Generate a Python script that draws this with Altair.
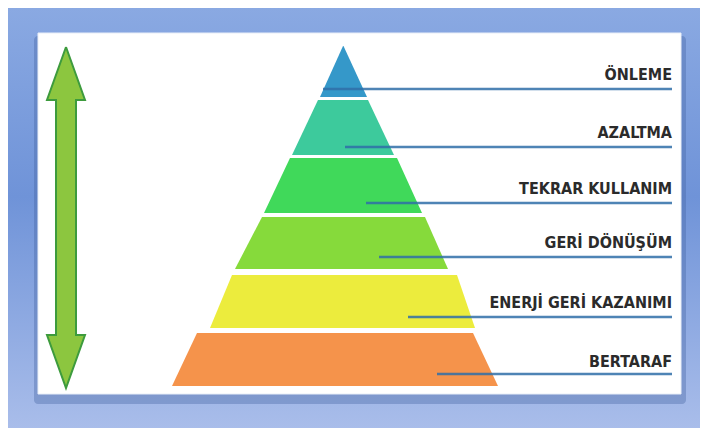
import altair as alt
import pandas as pd

# ---- data (diagram geometry in image units) ----
levels = ["ÖNLEME", "AZALTMA", "TEKRAR KULLANIM", "GERİ DÖNÜŞÜM",
          "ENERJİ GERİ KAZANIMI", "BERTARAF"]
colors = ["#3598c9", "#3dca9c", "#40d95a", "#86da3b", "#ecec3d", "#f5934b"]
y_top = [46, 100, 158, 217, 275, 333]
y_bot = [97, 155, 213, 269, 328, 386]
xl_top = [343, 318, 290, 262, 232, 197]
xr_top = [343.5, 368, 397, 425, 457, 473]
xl_bot = [320, 292, 264, 235, 210, 172]
xr_bot = [367, 394, 422, 448, 475, 498]
line_y = [89, 147, 203, 257, 317, 374]
line_x0 = [323, 345, 366, 379, 408, 437]
line_x1 = [672, 672, 672, 672, 672, 672]
label_y = [80, 138, 194, 248, 308, 367]

# double arrow outline (clockwise from top tip)
arrow_px = [66, 85, 76, 76, 85, 66, 47, 56, 56, 47, 66]
arrow_py = [47, 100, 100, 335, 335, 388, 335, 335, 100, 100, 47]

frame = {"x": [8], "x2": [700], "y": [8], "y2": [428]}
shadow = {"x": [34], "x2": [686], "y": [36], "y2": [404]}
panel = {"x": [38], "x2": [681], "y": [33], "y2": [394]}

# ---- tables ----
pyr_rows = []
for i, name in enumerate(levels):
    b = y_bot[i]
    for xx, yy in [(xl_bot[i], b), (xl_top[i], y_top[i]),
                   (xr_top[i], y_top[i]), (xr_bot[i], b)]:
        pyr_rows.append({"level": name, "color": colors[i],
                         "x": xx, "y": yy, "yb": b})
pyr = pd.DataFrame(pyr_rows)

lines = pd.DataFrame({"level": levels, "y": line_y, "x0": line_x0, "x1": line_x1,
                      "ly": label_y})
outline = pd.DataFrame({"o": list(range(len(arrow_px))),
                        "x": arrow_px, "y": arrow_py})

# arrow fill pieces, built from the outline points
tip_t, base_t = arrow_py[0], arrow_py[1]
base_b, tip_b = arrow_py[3], arrow_py[5]
hl, hc, hr = arrow_px[6], arrow_px[0], arrow_px[1]
sl, sr = arrow_px[7], arrow_px[2]
heads = pd.DataFrame([
    {"part": "top", "x": hl, "y": base_t, "y2": base_t},
    {"part": "top", "x": hc, "y": tip_t, "y2": base_t},
    {"part": "top", "x": hr, "y": base_t, "y2": base_t},
    {"part": "bot", "x": hl, "y": base_b, "y2": base_b},
    {"part": "bot", "x": hc, "y": base_b, "y2": tip_b},
    {"part": "bot", "x": hr, "y": base_b, "y2": base_b},
])
shaft = pd.DataFrame({"x": [sl], "x2": [sr], "y": [base_t], "y2": [base_b]})

# page coordinates: chart area starts after the 8px page margin
xs = alt.Scale(domain=[8, 700], nice=False, zero=False)
ys = alt.Scale(domain=[8, 428], nice=False, zero=False, reverse=True)


def X(f):
    return alt.X(f, type="quantitative", scale=xs, axis=None)


def Y(f):
    return alt.Y(f, type="quantitative", scale=ys, axis=None)


grad = alt.Gradient(
    gradient="linear",
    stops=[alt.GradientStop(color="#8aa9e2", offset=0),
           alt.GradientStop(color="#6f93d8", offset=0.45),
           alt.GradientStop(color="#a9bdea", offset=1)],
    x1=0, x2=0, y1=0, y2=1)

bg = alt.Chart(pd.DataFrame(frame)).mark_rect(color=grad).encode(
    x=X("x"), x2="x2", y=Y("y"), y2="y2")
sh = alt.Chart(pd.DataFrame(shadow)).mark_rect(
    color="#3f5f9f", opacity=0.35, cornerRadius=4).encode(
    x=X("x"), x2="x2", y=Y("y"), y2="y2")
pn = alt.Chart(pd.DataFrame(panel)).mark_rect(
    color="#ffffff", stroke="#e8eef8", strokeWidth=1).encode(
    x=X("x"), x2="x2", y=Y("y"), y2="y2")

pyramid = alt.Chart(pyr).mark_area(interpolate="linear").encode(
    x=X("x"), y=Y("y"), y2="yb",
    color=alt.Color("color:N", scale=None),
    detail="level:N")

head_fill = alt.Chart(heads).mark_area(interpolate="linear", color="#8cc63f").encode(
    x=X("x"), y=Y("y"), y2="y2", detail="part:N")
shaft_fill = alt.Chart(shaft).mark_rect(color="#8cc63f").encode(
    x=X("x"), x2="x2", y=Y("y"), y2="y2")
arrow_line = alt.Chart(outline).mark_line(
    color="#3d9b3d", strokeWidth=2, strokeJoin="miter").encode(
    x=X("x"), y=Y("y"), order="o:Q")

rules = alt.Chart(lines).mark_rule(
    color="#2f6fa8", strokeWidth=2.5, opacity=0.85).encode(
    x=X("x0"), x2="x1", y=Y("y"))

labels = alt.Chart(lines).mark_text(
    align="right", baseline="alphabetic",
    font="Liberation Sans Narrow, DejaVu Sans Condensed, sans-serif",
    fontWeight="bold", fontSize=16, color="#2b2b2b").encode(
    x=X("x1"), y=Y("ly"), text="level:N")

chart = alt.layer(bg, sh, pn, pyramid, head_fill, shaft_fill, arrow_line,
                  rules, labels).properties(
    width=692, height=420,
    autosize=alt.AutoSizeParams(type="none"),
    padding=0,
).configure_view(stroke=None)

chart.save("out.html", embed_options={"renderer": "svg", "actions": False})
